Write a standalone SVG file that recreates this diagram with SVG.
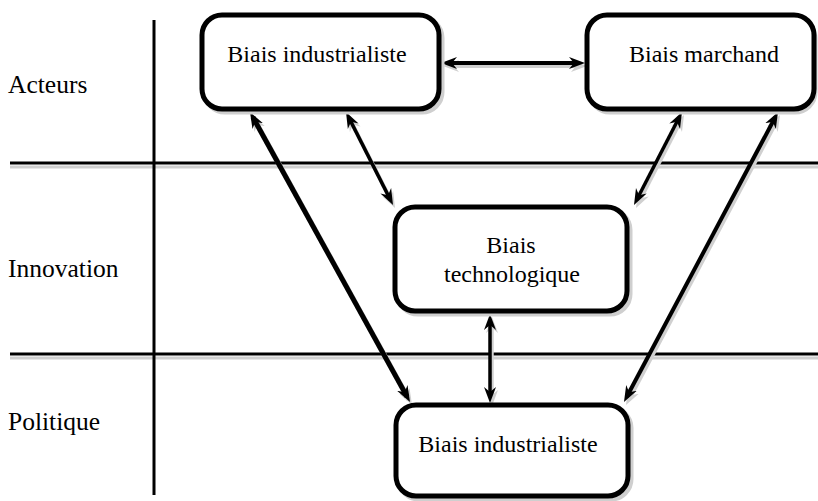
<svg xmlns="http://www.w3.org/2000/svg" width="818" height="501" viewBox="0 0 818 501">
<style>
.box{fill:#fff;stroke:#000;stroke-width:5}
.boxsh{fill:none;stroke:#cfcfcf;stroke-width:5}
.sep{stroke:#000;stroke-width:3}
.sepsh{stroke:#cfcfcf;stroke-width:3}
.arr{stroke:#000;fill:none;marker-start:url(#ah);marker-end:url(#ah)}
.arrsh{stroke:#d0d0d0;fill:none;marker-start:url(#ahs);marker-end:url(#ahs)}
.t{font-family:"Liberation Serif","Times New Roman",serif;font-size:24px;fill:#000;text-anchor:middle}
.lab{font-family:"Liberation Serif","Times New Roman",serif;font-size:25.5px;fill:#000}
</style>
<defs>
<marker id="ah" markerUnits="userSpaceOnUse" markerWidth="16" markerHeight="14" viewBox="0 -7 16 14" refX="10" refY="0" orient="auto-start-reverse"><path d="M0,-6 L16,0 L0,6 L5,0 z" fill="#000"/></marker>
<marker id="ahs" markerUnits="userSpaceOnUse" markerWidth="16" markerHeight="14" viewBox="0 -7 16 14" refX="10" refY="0" orient="auto-start-reverse"><path d="M0,-6 L16,0 L0,6 L5,0 z" fill="#d0d0d0"/></marker>
</defs>
<rect width="818" height="501" fill="#fff"/>
<g id="lanes">
<line class="sepsh" x1="10" y1="167" x2="818" y2="167"/>
<line class="sepsh" x1="10" y1="358" x2="818" y2="358"/>
<line class="sep" x1="10" y1="163" x2="818" y2="163"/>
<line class="sep" x1="10" y1="354" x2="818" y2="354"/>
<line class="sep" x1="154" y1="20" x2="154" y2="495"/>
<text class="lab" x="8" y="93">Acteurs</text>
<text class="lab" x="8" y="277">Innovation</text>
<text class="lab" x="8" y="430">Politique</text>
</g>
<g id="connectors">
<g transform="translate(2,3)">
<line class="arrsh" stroke-width="4" x1="447" y1="63" x2="579" y2="63"/>
<line class="arrsh" stroke-width="5" x1="252.9" y1="117.3" x2="407.1" y2="396.7"/>
<line class="arrsh" stroke-width="3.5" x1="348.7" y1="117.4" x2="390.3" y2="199.6"/>
<line class="arrsh" stroke-width="3.5" x1="679.25" y1="117.3" x2="636.75" y2="199.7"/>
<line class="arrsh" stroke-width="4" x1="775.2" y1="117.3" x2="626.8" y2="396.7"/>
<line class="arrsh" stroke-width="3.5" x1="490" y1="320" x2="490" y2="397"/>
</g>
<line class="arr" stroke-width="4" x1="447" y1="63" x2="579" y2="63"/>
<line class="arr" stroke-width="5" x1="252.9" y1="117.3" x2="407.1" y2="396.7"/>
<line class="arr" stroke-width="3.5" x1="348.7" y1="117.4" x2="390.3" y2="199.6"/>
<line class="arr" stroke-width="3.5" x1="679.25" y1="117.3" x2="636.75" y2="199.7"/>
<line class="arr" stroke-width="4" x1="775.2" y1="117.3" x2="626.8" y2="396.7"/>
<line class="arr" stroke-width="3.5" x1="490" y1="320" x2="490" y2="397"/>
</g>
<g id="n1">
<rect class="boxsh" x="205" y="18" width="237" height="94" rx="20"/>
<rect class="box" x="202" y="15" width="237" height="94" rx="20"/>
<text class="t" x="317" y="62">Biais industrialiste</text>
</g>
<g id="n2">
<rect class="boxsh" x="590" y="18" width="225" height="94" rx="20"/>
<rect class="box" x="587" y="15" width="227" height="94" rx="20"/>
<text class="t" x="704" y="62">Biais marchand</text>
</g>
<g id="n3">
<rect class="boxsh" x="398" y="210" width="232" height="104" rx="20"/>
<rect class="box" x="395" y="207" width="232" height="104" rx="20"/>
<text class="t" x="511" y="253">Biais</text>
<text class="t" x="512" y="282">technologique</text>
</g>
<g id="n4">
<rect class="boxsh" x="399" y="408" width="232" height="91" rx="20"/>
<rect class="box" x="396" y="405" width="232" height="91" rx="20"/>
<text class="t" x="508" y="452">Biais industrialiste</text>
</g>
</svg>
